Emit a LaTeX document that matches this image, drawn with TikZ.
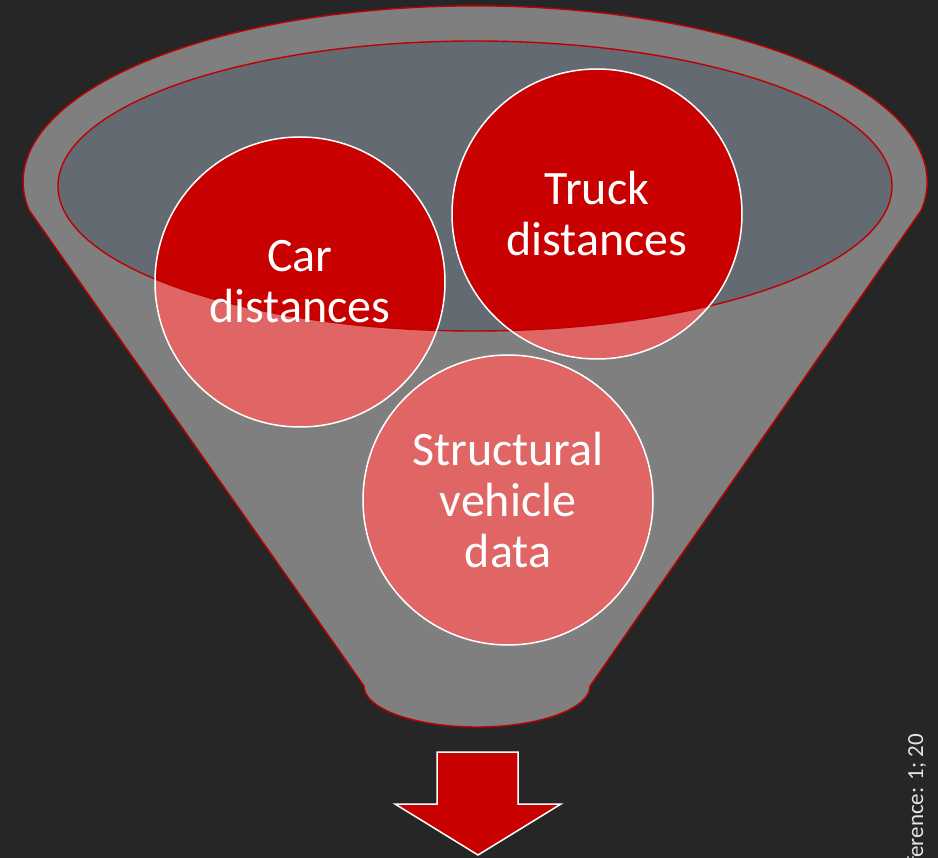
\documentclass[tikz,border=0pt]{standalone}
\usepackage{fontspec}
\setmainfont{Carlito}
\begin{document}
\begin{tikzpicture}[x=1pt,y=-1pt,
  bubbletext/.style={circle, draw=white, line width=1.5pt, minimum size=290pt,
    inner sep=0pt, text=white, align=center,
    font=\fontsize{48}{51}\selectfont},
  rimline/.style={draw=rimred, line width=1.4pt}]
\definecolor{bg}{HTML}{262626}
\definecolor{funnelgray}{HTML}{7F7F7F}
\definecolor{glass}{HTML}{646A72}
\definecolor{rimred}{HTML}{C00000}
\definecolor{deepred}{HTML}{C80000}
\definecolor{softred}{HTML}{E06666}
\definecolor{notegray}{HTML}{E4E4E4}

% canvas
\fill[bg] (0,0) rectangle (938,858);
\useasboundingbox (0,0) rectangle (938,858);

% circle centres
\coordinate (carc) at (300,282);
\coordinate (truckc) at (597,214);
\coordinate (structc) at (508,500);

% funnel body
\path[fill=funnelgray, rimline]
  (364,686) -- (29,210)
  arc[start angle=170.8, end angle=369.2, x radius=452, y radius=176]
  -- (590,686)
  arc[start angle=0, end angle=180, x radius=113, y radius=41] -- cycle;

% funnel mouth
\fill[glass] (475,186) ellipse[x radius=417, y radius=145];

% lower, lighter parts of the bubbles
\fill[softred] (carc) circle[radius=145];
\fill[softred] (truckc) circle[radius=145];
\fill[softred] (structc) circle[radius=145];

% parts inside the mouth are deeper red
\begin{scope}
  \clip (475,186) ellipse[x radius=417, y radius=145];
  \fill[deepred] (carc) circle[radius=145];
  \fill[deepred] (truckc) circle[radius=145];
\end{scope}

% rim of the mouth
\draw[rimline] (475,186) ellipse[x radius=417, y radius=145];

% bubbles with labels
\node[bubbletext] (car) at (carc) {Car\\distances};
\node[bubbletext] (truck) at (truckc) {Truck\\distances};
\node[bubbletext] (struct) at (structc) {Structural\\vehicle\\data};

% output arrow
\coordinate (arrowtip) at (478,855);
\path[fill=deepred, draw=white, line width=1.5pt, line join=miter]
  (437,752) -- (518,752) -- (518,804) -- (561,804) -- (arrowtip)
  -- (395,804) -- (437,804) -- cycle;

% side note
\node[rotate=90, anchor=base east, inner sep=0pt, text=notegray,
  font=\fontsize{23}{26}\selectfont] (note) at (923,734) {ference: 1; 20};
\end{tikzpicture}
\end{document}
